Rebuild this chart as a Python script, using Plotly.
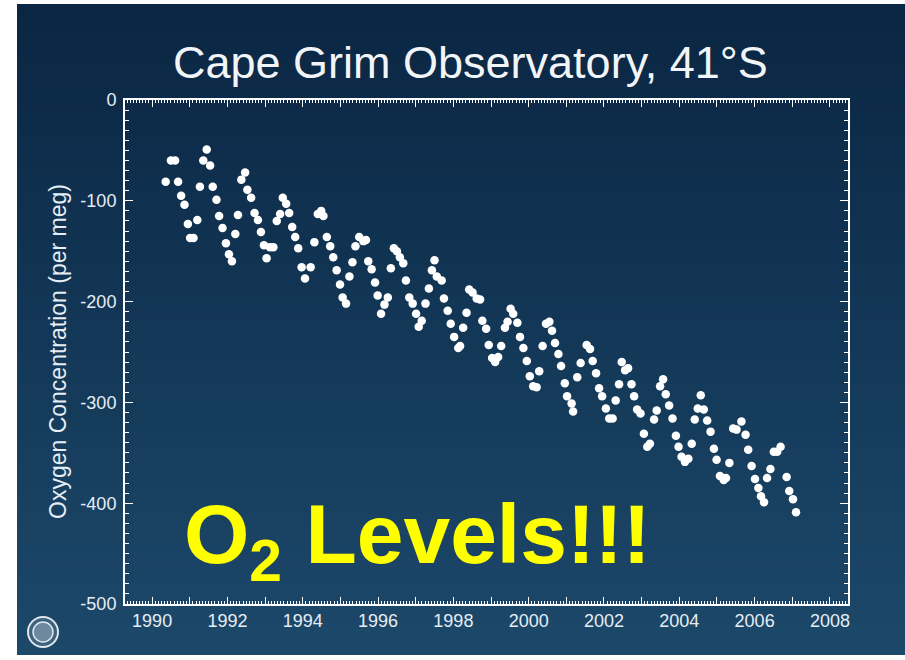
import plotly.graph_objects as go

# ---- data ----
years = [1990.36, 1990.50, 1990.61, 1990.69, 1990.77, 1990.86, 1990.95, 1991.01, 1991.10, 1991.20,
         1991.27, 1991.36, 1991.45, 1991.54, 1991.61, 1991.71, 1991.78, 1991.87, 1991.96, 1992.04,
         1992.12, 1992.21, 1992.28, 1992.37, 1992.47, 1992.53, 1992.63, 1992.72, 1992.81, 1992.89,
         1992.97, 1993.04, 1993.13, 1993.22, 1993.31, 1993.40, 1993.47, 1993.56, 1993.64, 1993.72,
         1993.80, 1993.88, 1993.97, 1994.06, 1994.21, 1994.31, 1994.40, 1994.49, 1994.55, 1994.64,
         1994.73, 1994.81, 1994.90, 1994.99, 1995.06, 1995.15, 1995.24, 1995.32, 1995.40, 1995.50,
         1995.61, 1995.68, 1995.74, 1995.83, 1995.92, 1995.99, 1996.08, 1996.17, 1996.26, 1996.34,
         1996.42, 1996.50, 1996.58, 1996.67, 1996.74, 1996.83, 1996.92, 1997.01, 1997.08, 1997.16,
         1997.26, 1997.35, 1997.43, 1997.50, 1997.56, 1997.69, 1997.75, 1997.85, 1997.93, 1998.02,
         1998.13, 1998.18, 1998.26, 1998.35, 1998.42, 1998.51, 1998.62, 1998.71, 1998.77, 1998.87,
         1998.94, 1999.03, 1999.11, 1999.19, 1999.27, 1999.37, 1999.44, 1999.52, 1999.59, 1999.70,
         1999.77, 1999.86, 1999.95, 2000.03, 2000.12, 2000.21, 2000.28, 2000.37, 2000.46, 2000.55,
         2000.62, 2000.70, 2000.79, 2000.86, 2000.96, 2001.02, 2001.14, 2001.18, 2001.29, 2001.38,
         2001.54, 2001.63, 2001.70, 2001.79, 2001.87, 2001.95, 2002.05, 2002.14, 2002.23, 2002.31,
         2002.40, 2002.47, 2002.56, 2002.64, 2002.73, 2002.80, 2002.88, 2002.97, 2003.06, 2003.15,
         2003.22, 2003.33, 2003.40, 2003.49, 2003.57, 2003.64, 2003.73, 2003.82, 2003.91, 2003.98,
         2004.06, 2004.15, 2004.24, 2004.33, 2004.41, 2004.49, 2004.57, 2004.65, 2004.74, 2004.83,
         2004.92, 2004.99, 2005.08, 2005.18, 2005.24, 2005.33, 2005.43, 2005.52, 2005.65, 2005.76,
         2005.83, 2005.92, 2006.01, 2006.10, 2006.17, 2006.25, 2006.33, 2006.42, 2006.51, 2006.60,
         2006.69, 2006.85, 2006.92, 2007.02, 2007.10]

o2_per_meg = [-81, -60, -60, -81, -95, -104, -123, -137, -137, -119,
              -86, -60, -49, -65, -86, -99, -115, -127, -142, -153,
              -160, -133, -114, -79, -72, -89, -97, -112, -119, -131,
              -144, -157, -146, -146, -120, -113, -97, -103, -112, -126,
              -136, -147, -166, -177, -166, -141, -113, -110, -115, -136,
              -145, -156, -169, -183, -196, -202, -175, -161, -145, -136,
              -140, -139, -160, -168, -181, -194, -212, -203, -196, -167,
              -147, -150, -156, -162, -179, -196, -202, -212, -225, -219,
              -202, -187, -169, -159, -175, -179, -197, -209, -222, -235,
              -246, -244, -226, -211, -188, -191, -197, -198, -219, -227,
              -243, -256, -260, -255, -244, -226, -220, -207, -212, -221,
              -235, -246, -259, -274, -284, -285, -269, -244, -222, -220,
              -229, -241, -252, -264, -281, -294, -301, -309, -275, -261,
              -243, -247, -259, -271, -286, -294, -306, -316, -316, -298,
              -282, -260, -268, -266, -282, -294, -307, -311, -331, -344,
              -341, -317, -308, -284, -277, -292, -303, -316, -333, -344,
              -354, -359, -356, -341, -317, -306, -293, -307, -318, -329,
              -346, -357, -373, -377, -375, -360, -326, -327, -319, -332,
              -347, -363, -376, -385, -393, -399, -375, -366, -349, -349,
              -344, -374, -388, -396, -409]

x_tick_years = list(range(1989, 2009))          # major ticks every year
x_label_years = list(range(1990, 2009, 2))      # labels every two years
y_tick_vals = [0, -100, -200, -300, -400, -500]
y_tick_text = ["0", "-100", "-200", "-300", "-400", "-500"]

TITLE = "Cape Grim Observatory, 41°S"
Y_TITLE = "Oxygen Concentration (per meg)"
OVERLAY = "O<sub>2</sub> Levels!!!"

# ---- figure geometry ----
W, H = 905, 660
L, R, T, B = 125, 57, 100, 56
PW, PH = W - L - R, H - T - B
X_RANGE = [1989.28, 2008.48]


def px_x(p):
    return (p - L) / PW


def px_y(p):
    return (H - B - p) / PH


shapes = []
shapes.append(dict(type="rect", xref="paper", yref="paper", x0=px_x(-2), x1=px_x(W + 2),
                   y0=px_y(H + 2), y1=px_y(-2), fillcolor="white", line_width=0, layer="below"))
# vertical gradient panel: each band runs to the bottom, lighter bands drawn on top
top, bot = 4, 655
n = 60
c0 = (10, 38, 67)
c1 = (28, 72, 106)
for i in range(n):
    f = i / (n - 1)
    col = tuple(round(c0[k] + (c1[k] - c0[k]) * f) for k in range(3))
    ya = top + (bot - top) * i / n
    shapes.append(dict(type="rect", xref="paper", yref="paper", x0=px_x(17), x1=px_x(W + 2),
                       y0=px_y(bot), y1=px_y(ya),
                       fillcolor="rgb(%d,%d,%d)" % col, line_width=0, layer="below"))

# small seal logo at lower left
cx, cy, r = 43, 632, 15
shapes.append(dict(type="circle", xref="paper", yref="paper",
                   x0=px_x(cx - r), x1=px_x(cx + r), y0=px_y(cy + r), y1=px_y(cy - r),
                   line=dict(color="#dfe6ee", width=2), fillcolor="rgba(255,255,255,0.15)"))
r2 = 10
shapes.append(dict(type="circle", xref="paper", yref="paper",
                   x0=px_x(cx - r2), x1=px_x(cx + r2), y0=px_y(cy + r2), y1=px_y(cy - r2),
                   line=dict(color="#dfe6ee", width=1.5), fillcolor="rgba(255,255,255,0.25)"))

fig = go.Figure()
fig.add_trace(go.Scatter(x=years, y=o2_per_meg, mode="markers",
                         marker=dict(size=8.5, color="white", line=dict(width=0)),
                         hoverinfo="x+y", showlegend=False))
# invisible trace so the label axis is drawn
fig.add_trace(go.Scatter(x=[years[0]], y=[o2_per_meg[0]], xaxis="x2", mode="markers",
                         marker=dict(size=1, opacity=0), hoverinfo="skip", showlegend=False))

axis_font = dict(family="Liberation Sans, Arial, sans-serif", size=18, color="#e6edf4")

fig.update_layout(
    width=W, height=H,
    margin=dict(l=L, r=R, t=T, b=B, pad=0),
    paper_bgcolor="white",
    plot_bgcolor="rgba(0,0,0,0)",
    shapes=shapes,
    showlegend=False,
    xaxis=dict(range=X_RANGE, tickvals=x_tick_years, showticklabels=False,
               showgrid=False, zeroline=False, showline=True, linecolor="white", linewidth=2,
               mirror="ticks", ticks="inside", ticklen=7, tickwidth=1.2, tickcolor="white",
               minor=dict(tick0=1989, dtick=1/12, ticks="inside", ticklen=3, tickcolor="white",
                          tickwidth=1, showgrid=False)),
    xaxis2=dict(range=X_RANGE, overlaying="x", side="bottom", anchor="y",
                tickvals=x_label_years, showgrid=False, zeroline=False, showline=False,
                ticks="", tickfont=axis_font, ticklabelstandoff=4),
    yaxis=dict(range=[-500, 0], tickvals=y_tick_vals, ticktext=y_tick_text,
               showgrid=False, zeroline=False, showline=True, linecolor="white", linewidth=2,
               mirror="ticks", ticks="inside", ticklen=8, tickwidth=1.2, tickcolor="white",
               minor=dict(tick0=0, dtick=10, ticks="inside", ticklen=4, tickcolor="white",
                          tickwidth=1, showgrid=False),
               tickfont=axis_font, ticklabelstandoff=3),
    annotations=[
        dict(text=TITLE, xref="paper", yref="paper", x=px_x(470), y=px_y(62),
             xanchor="center", yanchor="middle", showarrow=False,
             font=dict(family="Liberation Sans, Arial, sans-serif", size=45,
                       color="#f2f5f8")),
        dict(text=Y_TITLE, xref="paper", yref="paper", x=px_x(58), y=px_y(352),
             xanchor="center", yanchor="middle", textangle=-90, showarrow=False,
             font=dict(family="Liberation Sans, Arial, sans-serif", size=23, color="#e6edf4")),
        dict(text=OVERLAY, xref="paper", yref="paper", x=px_x(182), y=px_y(540),
             xanchor="left", yanchor="middle", showarrow=False,
             font=dict(family="Liberation Sans, Arial, sans-serif", size=84, color="#ffff00",
                       weight="bold")),
    ],
)

fig.write_html("out.html", config={"displayModeBar": False},
               post_script="document.body.style.margin='0px';")
